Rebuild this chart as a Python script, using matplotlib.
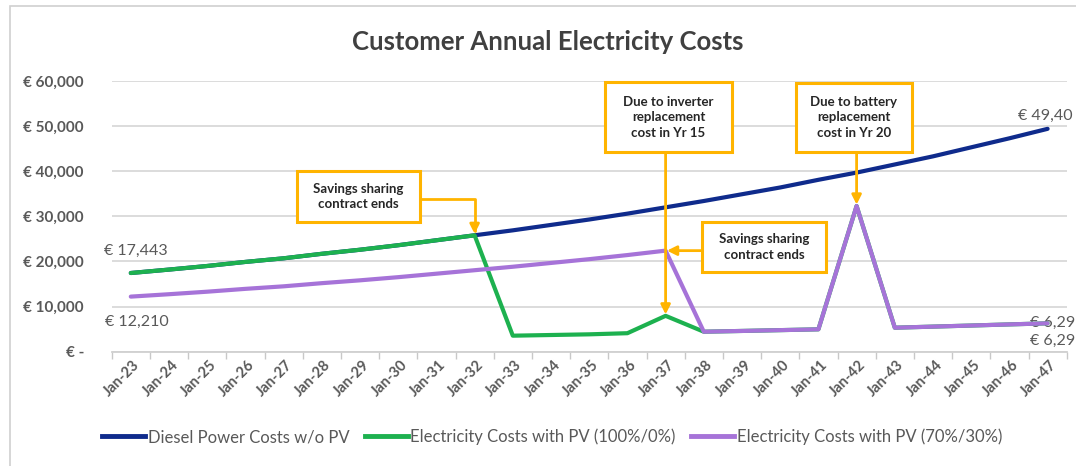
import matplotlib.pyplot as plt
import matplotlib.transforms as mtransforms
from matplotlib.lines import Line2D
from matplotlib.patches import Rectangle

plt.rcParams['font.family'] = ['Lato', 'DejaVu Sans']

# data
years = ['Jan-%d' % y for y in range(23, 48)]
diesel = [17443, 18200, 19000, 19900, 20700, 21700, 22600, 23600, 24700, 25800,
          26900, 28100, 29300, 30600, 32000, 33400, 34900, 36400, 38100, 39700,
          41500, 43300, 45300, 47300, 49400]
pv_100 = [17443, 18200, 19000, 19900, 20700, 21700, 22600, 23600, 24700, 25800,
          3550, 3700, 3850, 4100, 7950, 4430, 4600, 4780, 4960, 32300,
          5320, 5560, 5800, 6050, 6290]
pv_70 = [12210, 12740, 13300, 13930, 14490, 15190, 15820, 16520, 17290, 18060,
         18830, 19670, 20510, 21420, 22400, 4430, 4600, 4780, 4960, 32300,
         5320, 5560, 5800, 6050, 6290]
series_names = ['Diesel Power Costs w/o PV', 'Electricity Costs with PV (100%/0%)',
                'Electricity Costs with PV (70%/30%)']
y_ticks = [0, 10000, 20000, 30000, 40000, 50000, 60000]
y_labels = ['€ -', '€ 10,000', '€ 20,000', '€ 30,000', '€ 40,000', '€ 50,000', '€ 60,000']

navy = '#0F2B8C'
green = '#1DB14F'
purple = '#A673D8'
orange = '#FFB400'
grey = '#595959'

W, H = 1076, 466
fig = plt.figure(figsize=(W / 100, H / 100), dpi=100)
ax = fig.add_axes([111.7 / W, 1 - 351.7 / H, (1066.7 - 111.7) / W, (351.7 - 81) / H])

# outer chart frame
fig.patches.append(Rectangle((10 / W, -0.1), 1.2, 1.1 - 6 / H, transform=fig.transFigure,
                             fill=False, edgecolor='#D0D0D0', lw=1.2))

x = list(range(len(years)))
ax.plot(x, diesel, color=navy, lw=3, solid_capstyle='round', zorder=3)
ax.plot(x, pv_100, color=green, lw=3, solid_capstyle='round', zorder=4)
ax.plot(x, pv_70, color=purple, lw=3, solid_capstyle='round', zorder=5)

ax.set_xlim(-0.5, len(years) - 0.5)
ax.set_ylim(0, 60000)
ax.set_yticks(y_ticks)
ax.set_yticklabels(y_labels, fontsize=11, fontweight='bold', color=grey)
ax.tick_params(axis='y', length=0, pad=20)
ax.grid(axis='y', color='#D9D9D9', lw=1.3)
ax.set_axisbelow(True)
for s in ['top', 'right', 'left']:
    ax.spines[s].set_visible(False)
ax.spines['bottom'].set_color('#D0D0D0')
ax.spines['bottom'].set_linewidth(1.3)

ax.set_xticks([i - 0.5 for i in range(len(years) + 1)])
ax.set_xticklabels([])
ax.tick_params(axis='x', which='major', length=5, color='#C8C8C8', width=1)
ax.set_xticks(x, minor=True)
ax.set_xticklabels(years, minor=True, rotation=45, ha='right', va='center',
                   rotation_mode='anchor', fontsize=10.5, fontweight='bold', color=grey)
ax.tick_params(axis='x', which='minor', length=0, pad=8)
shift = mtransforms.ScaledTranslation(7 / 100, 0, fig.dpi_scale_trans)
for t in ax.get_xticklabels(minor=True):
    t.set_transform(t.get_transform() + shift)

fig.text(548 / W, 1 - 42 / H, 'Customer Annual Electricity Costs', ha='center', va='center',
         fontsize=18.5, fontweight='bold', color='#404040')

# data labels
def label(i, v, txt, dx, dy):
    ax.annotate(txt, xy=(i, v), xytext=(dx, dy), textcoords='offset pixels',
                ha='left', va='center', fontsize=11.5, color=grey, annotation_clip=False)

label(0, diesel[0], '€ 17,443', -27, 22)
label(0, pv_70[0], '€ 12,210', -26, -25)
label(24, diesel[24], '€ 49,40', -30, 13)
label(24, pv_100[24], '€ 6,29', -18, 0)
label(24, pv_70[24], '€ 6,29', -18, -18)

# callout boxes
def box(x0, y0, x1, y1, txt):
    fig.patches.append(Rectangle((x0 / W, 1 - y1 / H), (x1 - x0) / W, (y1 - y0) / H,
                                 transform=fig.transFigure, fill=True, facecolor='white',
                                 edgecolor=orange, lw=2.2, zorder=6))
    fig.text((x0 + x1) / 2 / W, 1 - (y0 + y1) / 2 / H, txt, ha='center', va='center',
             fontsize=9.5, fontweight='bold', color='#262626', linespacing=1.35, zorder=7)

arrow = dict(arrowstyle='-|>', color=orange, lw=2, mutation_scale=14, shrinkA=0, shrinkB=1)

box(297, 171, 420, 222, 'Savings sharing\ncontract ends')
ax.annotate('', xy=(9, pv_100[9]), xytext=(420 / W, 1 - 199 / H),
            textcoords='figure fraction',
            arrowprops=dict(arrow, connectionstyle='angle,angleA=0,angleB=90,rad=0'), zorder=6)

box(605, 82, 732, 152, 'Due to inverter\nreplacement\ncost in Yr 15')
ax.annotate('', xy=(14, pv_100[14]), xytext=(14, 1 - 152 / H),
            textcoords=('data', 'figure fraction'), arrowprops=arrow, zorder=6)

box(796, 83, 912, 152, 'Due to battery\nreplacement\ncost in Yr 20')
ax.annotate('', xy=(19, pv_70[19]), xytext=(19, 1 - 152 / H),
            textcoords=('data', 'figure fraction'), arrowprops=arrow, zorder=6)

box(702, 222, 826, 272, 'Savings sharing\ncontract ends')
ax.annotate('', xy=(14, pv_70[14]), xytext=(702 / W, pv_70[14]),
            textcoords=('figure fraction', 'data'), arrowprops=arrow, zorder=6)

handles = [Line2D([], [], color=c, lw=3.5) for c in (navy, green, purple)]
leg = fig.legend(handles, series_names, loc='center', bbox_to_anchor=(552 / W, 1 - 437 / H),
                 ncol=3, frameon=False, handlelength=2.6, handletextpad=0.15,
                 columnspacing=0.9, fontsize=12)
for t in leg.get_texts():
    t.set_color(grey)

fig.savefig('out.png', dpi=100)
